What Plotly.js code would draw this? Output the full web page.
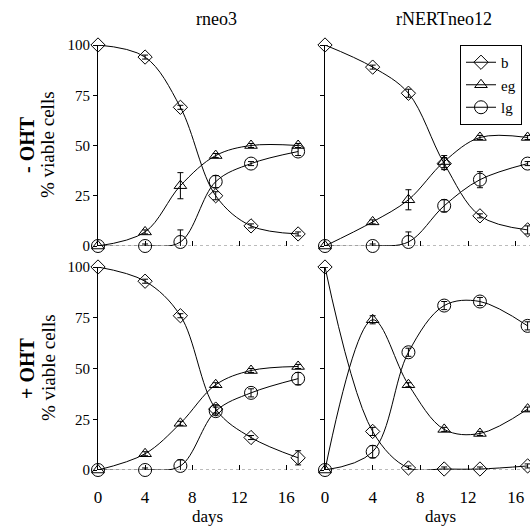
<!DOCTYPE html>
<html>
<head>
<meta charset="utf-8">
<script src="https://cdn.plot.ly/plotly-3.0.1.min.js"></script>
<style>html,body{margin:0;padding:0;background:#fff;}#chart{width:530px;height:526px;}</style>
</head>
<body>
<div id="chart"></div>
<script>
// ---- data ----
const days = [0, 4, 7, 10, 13, 17];
const seriesNames = ['b', 'eg', 'lg'];
const panelTitles = ['rneo3', 'rNERTneo12'];
const rowTitles = ['- OHT', '+ OHT'];
const yTickVals = [0, 25, 50, 75, 100];
const xTickVals = [0, 4, 8, 12, 16];

// rneo3, -OHT
const tl_b  = [100, 94, 69, 25, 10, 6];
const tl_eg = [0, 7, 30, 45, 50, 50];
const tl_lg = [0, 0, 2, 32, 41, 47];
const tl_b_err  = [0, 1, 1, 2, 1, 1];
const tl_eg_err = [0, 1, 6.5, 1, 1, 1];
const tl_lg_err = [0, 1, 6, 3, 1, 2];
// rNERTneo12, -OHT
const tr_b  = [100, 89, 76, 41, 15, 8];
const tr_eg = [0, 12, 23, 42, 54, 54];
const tr_lg = [0, 0, 2, 20, 33, 41];
const tr_b_err  = [0, 1, 2, 3, 1, 2];
const tr_eg_err = [0, 1, 5, 3, 1, 1];
const tr_lg_err = [0, 1, 5, 3, 4, 1];
// rneo3, +OHT
const bl_b  = [100, 93, 76, 30, 16, 6];
const bl_eg = [0, 8, 23, 42, 49, 51];
const bl_lg = [0, 0, 2, 29, 38, 45];
const bl_b_err  = [0, 1, 1, 2, 1, 3.5];
const bl_eg_err = [0, 1, 1, 1, 1, 1];
const bl_lg_err = [0, 1, 3, 2, 2, 3];
// rNERTneo12, +OHT
const br_b  = [100, 19, 1, 0.5, 0.5, 2];
const br_eg = [0, 74, 42, 20, 18, 30];
const br_lg = [0, 9, 58, 81, 83, 71];
const br_b_err  = [0, 2, 1, 1, 1, 1];
const br_eg_err = [0, 2, 1, 1, 1, 1];
const br_lg_err = [0, 3, 2, 2, 2, 2];

// ---- build ----
const FONT = 'Liberation Serif, serif';
const symbols = {b: 'diamond-open', eg: 'triangle-up-open', lg: 'circle-open'};
const sizes = {b: 11, eg: 11, lg: 13};
const panels = [
  {xa: 'x',  ya: 'y',  data: {b: tl_b, eg: tl_eg, lg: tl_lg}, err: {b: tl_b_err, eg: tl_eg_err, lg: tl_lg_err}, legend: false},
  {xa: 'x2', ya: 'y2', data: {b: tr_b, eg: tr_eg, lg: tr_lg}, err: {b: tr_b_err, eg: tr_eg_err, lg: tr_lg_err}, legend: true},
  {xa: 'x3', ya: 'y3', data: {b: bl_b, eg: bl_eg, lg: bl_lg}, err: {b: bl_b_err, eg: bl_eg_err, lg: bl_lg_err}, legend: false},
  {xa: 'x4', ya: 'y4', data: {b: br_b, eg: br_eg, lg: br_lg}, err: {b: br_b_err, eg: br_eg_err, lg: br_lg_err}, legend: false}
];
const traces = [];
panels.forEach(p => {
  seriesNames.forEach(s => {
    traces.push({
      type: 'scatter', mode: 'lines+markers', name: s,
      x: days, y: p.data[s], xaxis: p.xa, yaxis: p.ya,
      showlegend: p.legend, cliponaxis: false,
      line: {color: '#000', width: 1, shape: 'spline', smoothing: 1},
      marker: {symbol: symbols[s], size: sizes[s], color: '#000', line: {color: '#000', width: 1}},
      error_y: {type: 'data', array: p.err[s], visible: true, color: '#000', thickness: 1, width: 3}
    });
  });
});

const W = 530, H = 526;
const xdomL = [98 / W, 304 / W], xdomR = [325 / W, 1];
const ydomT = [(H - 246) / H, (H - 45) / H], ydomB = [(H - 470) / H, (H - 267) / H];

function xax(dom, range, labels) {
  return {domain: dom, range: range, tickvals: xTickVals, ticks: 'inside', ticklen: 5, tickcolor: '#000',
    showticklabels: labels, ticklabelstandoff: 15, tickfont: {family: FONT, size: 17, color: '#000'},
    showline: false, showgrid: false, zeroline: false, fixedrange: true};
}
function yax(dom, anchor, labels) {
  return {domain: dom, anchor: anchor, range: [0, 100], tickvals: yTickVals, ticks: 'outside', ticklen: 4,
    tickcolor: '#000', showticklabels: labels, tickfont: {family: FONT, size: 15, color: '#000'},
    showline: true, linecolor: '#000', linewidth: 1, showgrid: false, zeroline: false, fixedrange: true};
}

function ann(text, x, y, size, angle) {
  return {text: text, x: x / W, y: (H - y) / H, xref: 'paper', yref: 'paper', showarrow: false,
    textangle: angle || 0, xanchor: 'center', yanchor: 'middle', font: {family: FONT, size: size, color: '#000'}};
}

const layout = {
  width: W, height: H,
  margin: {l: 0, r: 0, t: 0, b: 0},
  paper_bgcolor: '#fff', plot_bgcolor: 'rgba(0,0,0,0)',
  font: {family: FONT, color: '#000'},
  xaxis:  Object.assign(xax(xdomL, [0, 17.5], false), {anchor: 'y'}),
  yaxis:  yax(ydomT, 'x', true),
  xaxis2: Object.assign(xax(xdomR, [0, 17.2], false), {anchor: 'y2'}),
  yaxis2: yax(ydomT, 'x2', false),
  xaxis3: Object.assign(xax(xdomL, [0, 17.5], true), {anchor: 'y3'}),
  yaxis3: yax(ydomB, 'x3', true),
  xaxis4: Object.assign(xax(xdomR, [0, 17.2], true), {anchor: 'y4'}),
  yaxis4: yax(ydomB, 'x4', false),
  showlegend: true,
  legend: {x: 460 / W, y: (H - 45) / H, xanchor: 'left', yanchor: 'top',
    bordercolor: '#000', borderwidth: 1, bgcolor: '#fff', itemwidth: 30,
    font: {family: FONT, size: 15, color: '#000'}, tracegroupgap: 0},
  shapes: [
    ['x', 'y', 17.5], ['x2', 'y2', 17.2], ['x3', 'y3', 17.5], ['x4', 'y4', 17.2]
  ].map(a => ({type: 'line', xref: a[0], yref: a[1], x0: 0, x1: a[2], y0: 0, y1: 0, layer: 'below',
    line: {color: '#777', width: 1, dash: 'dot'}})),
  annotations: [
    ann(panelTitles[0], 216, 19, 18),
    ann(panelTitles[1], 444, 19, 18),
    ann('<b>' + rowTitles[0] + '</b>', 27, 145, 20, -90),
    ann('% viable cells', 48, 145, 19, -90),
    ann('<b>' + rowTitles[1] + '</b>', 27, 368, 20, -90),
    ann('% viable cells', 48, 368, 19, -90),
    ann('days', 207, 516, 17),
    ann('days', 440, 516, 17)
  ]
};

Plotly.newPlot('chart', traces, layout, {displayModeBar: false, staticPlot: true});
</script>
</body>
</html>
